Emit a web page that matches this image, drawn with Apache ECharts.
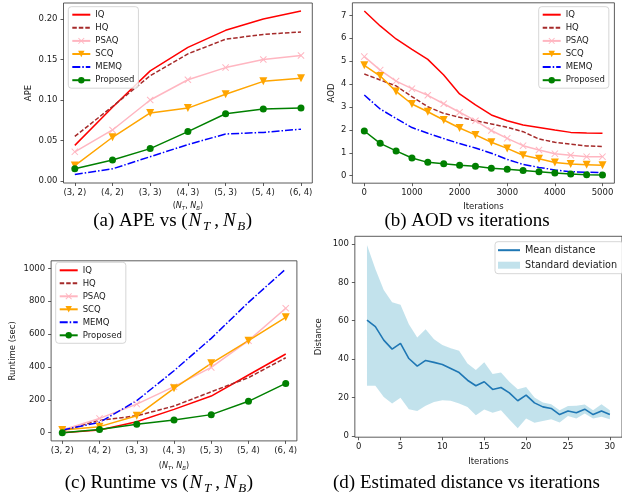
<!DOCTYPE html>
<html>
<head>
    <meta charset="utf-8">
    <title>APE / AOD / Runtime / Distance</title>
    <script src="https://cdn.jsdelivr.net/npm/echarts@6/dist/echarts.min.js"></script>
    <style>
        html, body { margin: 0; padding: 0; background: #fff; }
        #main { width: 622px; height: 502px; }
    </style>
</head>
<body>
<div id="main"></div>
<script type="text/javascript">
    // (a) APE vs (N_T, N_B)
    var catLabels = ['(3, 2)', '(4, 2)', '(3, 3)', '(4, 3)', '(5, 3)', '(5, 4)', '(6, 4)'];
    var catIdx = [0, 1, 2, 3, 4, 5, 6];
    var apeIQ = [0.044, 0.091, 0.136, 0.165, 0.186, 0.200, 0.210];
    var apeHQ = [0.055, 0.092, 0.130, 0.157, 0.175, 0.181, 0.184];
    var apePSAQ = [0.036, 0.063, 0.100, 0.125, 0.140, 0.150, 0.155];
    var apeSCQ = [0.019, 0.054, 0.084, 0.090, 0.107, 0.123, 0.127];
    var apeMEMQ = [0.008, 0.015, 0.030, 0.045, 0.058, 0.060, 0.064];
    var apeProp = [0.015, 0.026, 0.040, 0.061, 0.083, 0.089, 0.090];
    var apeTicks = [0, 0.05, 0.10, 0.15, 0.20];

    // (b) AOD vs iterations
    var iterB = [0, 333, 667, 1000, 1333, 1667, 2000, 2333, 2667, 3000, 3333, 3667, 4000, 4333, 4667, 5000];
    var aodIQ = [7.19, 6.54, 5.97, 5.52, 5.08, 4.40, 3.57, 3.09, 2.65, 2.40, 2.21, 2.10, 1.99, 1.89, 1.86, 1.85];
    var aodHQ = [4.44, 4.18, 3.92, 3.45, 3.01, 2.72, 2.55, 2.40, 2.26, 2.11, 1.92, 1.60, 1.46, 1.37, 1.30, 1.27];
    var aodPSAQ = [5.20, 4.61, 4.13, 3.80, 3.51, 3.14, 2.77, 2.40, 1.97, 1.63, 1.31, 1.12, 0.96, 0.89, 0.83, 0.83];
    var aodSCQ = [4.82, 4.35, 3.68, 3.13, 2.79, 2.43, 2.08, 1.78, 1.46, 1.19, 0.89, 0.74, 0.57, 0.51, 0.48, 0.45];
    var aodMEMQ = [3.52, 2.91, 2.50, 2.10, 1.85, 1.62, 1.40, 1.21, 0.98, 0.71, 0.49, 0.36, 0.25, 0.17, 0.15, 0.13];
    var aodProp = [1.95, 1.41, 1.08, 0.77, 0.58, 0.52, 0.45, 0.41, 0.32, 0.28, 0.22, 0.17, 0.12, 0.07, 0.04, 0.03];
    var iterTicksB = [0, 1000, 2000, 3000, 4000, 5000];
    var aodTicks = [0, 1, 2, 3, 4, 5, 6, 7];

    // (c) Runtime vs (N_T, N_B)
    var rtIQ = [0, 16, 67, 142, 223, 351, 479];
    var rtHQ = [12, 75, 103, 162, 249, 335, 456];
    var rtPSAQ = [16, 87, 174, 280, 397, 560, 757];
    var rtSCQ = [16, 37, 103, 270, 422, 560, 702];
    var rtMEMQ = [16, 63, 195, 377, 574, 793, 996];
    var rtProp = [0, 20, 51, 77, 110, 191, 300];
    var rtTicks = [0, 200, 400, 600, 800, 1000];

    // (d) Estimated distance vs iterations
    var iterD = [1, 2, 3, 4, 5, 6, 7, 8, 9, 10, 11, 12, 13, 14, 15, 16, 17, 18, 19, 20, 21, 22, 23, 24, 25, 26, 27, 28, 29, 30];
    var distMean = [60.3, 56.9, 49.9, 45.2, 48.2, 40.3, 36.3, 39.3, 38.3, 37.2, 35.1, 33.0, 29.0, 26.1, 28.2, 24.2, 25.2, 22.4, 18.3, 21.2, 17.2, 15.1, 14.3, 11.1, 13.0, 12.0, 13.9, 11.1, 13.0, 11.1];
    var distUpper = [99.5, 87.0, 76.0, 69.6, 68.3, 58.1, 51.3, 55.5, 50.4, 47.3, 45.6, 44.3, 37.7, 34.3, 38.3, 32.2, 33.0, 28.2, 24.3, 25.4, 20.0, 17.4, 16.5, 13.4, 15.5, 15.7, 16.3, 13.4, 16.5, 13.4];
    var distLower = [26.1, 26.1, 20.3, 16.9, 19.8, 13.9, 13.0, 15.7, 17.7, 18.6, 18.3, 16.9, 15.1, 10.8, 13.7, 12.0, 13.4, 8.5, 4.0, 9.0, 6.8, 7.8, 8.7, 7.0, 10.4, 9.0, 11.7, 9.0, 9.9, 8.7];
    var iterTicksD = [0, 5, 10, 15, 20, 25, 30];
    var distTicks = [0, 20, 40, 60, 80, 100];

    var methodNames = ['IQ', 'HQ', 'PSAQ', 'SCQ', 'MEMQ', 'Proposed'];

    var FONT = 'DejaVu Sans';
    var SERIF = 'Liberation Serif';
    var TXT = '#1a1a1a';

    // 各方法线型
    var methodStyle = {
        IQ: {color: '#ff0000', type: 'solid', symbol: 'none'},
        HQ: {color: '#a52a2a', type: [4.5, 2], symbol: 'none'},
        PSAQ: {color: '#ffb6c1', type: 'solid', symbol: 'path://M0,1L1,0L5,4L9,0L10,1L6,5L10,9L9,10L5,6L1,10L0,9L4,5Z', size: 7},
        SCQ: {color: '#ffa500', type: 'solid', symbol: 'triangle', size: 8, rotate: 180},
        MEMQ: {color: '#0000ff', type: [8, 2, 1.5, 2], symbol: 'none'},
        Proposed: {color: '#008000', type: 'solid', symbol: 'circle', size: 7}
    };

    function pairs(xs, ys) {
        var out = [];
        for (var i = 0; i < ys.length; i++) {
            out.push([xs[i], ys[i]]);
        }
        return out;
    }

    function methodSeries(name, g, xs, ys) {
        var st = methodStyle[name];
        return {
            name: name,
            type: 'line',
            xAxisIndex: g,
            yAxisIndex: g,
            data: pairs(xs, ys),
            symbol: st.symbol,
            symbolSize: st.size || 0,
            symbolRotate: st.rotate || 0,
            showSymbol: st.symbol !== 'none',
            animation: false,
            lineStyle: {color: st.color, width: 1.5, type: st.type},
            itemStyle: {color: st.color, borderWidth: 0}
        };
    }

    // 坐标名的上下标
    var subRich = {
        n: {fontSize: 8, fontFamily: FONT, color: TXT, lineHeight: 12},
        i: {fontSize: 8, fontFamily: FONT, fontStyle: 'italic', color: TXT, lineHeight: 12},
        s: {fontSize: 5.5, fontFamily: FONT, fontStyle: 'italic', color: TXT, verticalAlign: 'bottom', lineHeight: 7}
    };
    var ntnbName = '{n|(}{i|N}{s|T}{n|, }{i|N}{s|B}{n|)}';

    function valAxis(g, min, max, ticks, fmt, name, nameGap, isX) {
        return {
            type: 'value',
            gridIndex: g,
            min: min,
            max: max,
            name: name,
            nameLocation: 'middle',
            nameGap: nameGap,
            nameTextStyle: {fontSize: 8.5, color: TXT, fontFamily: FONT, rich: subRich},
            axisLine: {show: false, onZero: false},
            splitLine: {show: false},
            axisTick: {show: true, length: 3, customValues: ticks, lineStyle: {color: '#333', width: 0.8}},
            axisLabel: {customValues: ticks, formatter: fmt, fontSize: 8.5, color: TXT, fontFamily: FONT, margin: isX ? 5 : 6}
        };
    }

    function catFmt(v) {
        return catLabels[Math.round(v)];
    }

    function legendCfg(left, top, names, gap) {
        var data = [];
        for (var i = 0; i < names.length; i++) {
            var st = methodStyle[names[i]];
            var item = {name: names[i]};
            if (st && st.symbol === 'none') {
                item.itemStyle = {opacity: 0};
            }
            data.push(item);
        }
        return {
            left: left,
            top: top,
            orient: 'vertical',
            data: data,
            itemWidth: 18,
            itemHeight: 8,
            itemGap: gap,
            padding: [3, 4, 3, 3],
            backgroundColor: 'rgba(255,255,255,0.85)',
            borderColor: '#cccccc',
            borderWidth: 0.8,
            borderRadius: 3,
            textStyle: {fontSize: 8.5, fontFamily: FONT, color: TXT, lineHeight: 10}
        };
    }

    var gridBox = {show: true, borderColor: '#333', borderWidth: 0.8, backgroundColor: 'transparent'};

    var grids = [
        Object.assign({left: 63.5, top: 3, width: 248.8, height: 180}, gridBox),
        Object.assign({left: 352.4, top: 2.8, width: 262, height: 180.4}, gridBox),
        Object.assign({left: 51.1, top: 260.8, width: 245.8, height: 180.1}, gridBox),
        Object.assign({left: 354.85, top: 236.3, width: 272.8, height: 200.9}, gridBox)
    ];

    var xAxes = [
        valAxis(0, -0.3, 6.3, catIdx, catFmt, ntnbName, 17, true),
        valAxis(1, -250, 5250, iterTicksB, function (v) { return String(v); }, 'Iterations', 19, true),
        valAxis(2, -0.3, 6.3, catIdx, catFmt, ntnbName, 19, true),
        valAxis(3, -0.45, 31.45, iterTicksD, function (v) { return String(v); }, 'Iterations', 20, true)
    ];
    var yAxes = [
        valAxis(0, -0.00247, 0.21975, apeTicks, function (v) { return v.toFixed(2); }, 'APE', 30, false),
        valAxis(1, -0.33, 7.55, aodTicks, function (v) { return String(v); }, 'AOD', 16, false),
        valAxis(2, -49.8, 1045.8, rtTicks, function (v) { return String(v); }, 'Runtime (sec)', 34, false),
        valAxis(3, -0.7, 104, distTicks, function (v) { return String(v); }, 'Distance', 32, false)
    ];

    var series = [];
    var apeData = [apeIQ, apeHQ, apePSAQ, apeSCQ, apeMEMQ, apeProp];
    var aodData = [aodIQ, aodHQ, aodPSAQ, aodSCQ, aodMEMQ, aodProp];
    var rtData = [rtIQ, rtHQ, rtPSAQ, rtSCQ, rtMEMQ, rtProp];
    for (var k = 0; k < methodNames.length; k++) {
        series.push(methodSeries(methodNames[k], 0, catIdx, apeData[k]));
        series.push(methodSeries(methodNames[k], 1, iterB, aodData[k]));
        series.push(methodSeries(methodNames[k], 2, catIdx, rtData[k]));
    }

    // 标准差带：上界和下界围成的多边形
    var bandColor = 'rgba(173,216,230,0.75)';
    series.push({
        name: 'Standard deviation',
        type: 'custom',
        xAxisIndex: 3,
        yAxisIndex: 3,
        data: pairs(iterD, distUpper),
        encode: {x: 0, y: 1},
        animation: false,
        itemStyle: {color: bandColor},
        renderItem: function (params, api) {
            if (params.dataIndex !== 0) {
                return null;
            }
            var pts = [];
            for (var i = 0; i < iterD.length; i++) {
                pts.push(api.coord([iterD[i], distUpper[i]]));
            }
            for (var j = iterD.length - 1; j >= 0; j--) {
                pts.push(api.coord([iterD[j], distLower[j]]));
            }
            return {type: 'polygon', shape: {points: pts}, style: {fill: bandColor}};
        }
    });
    series.push({
        name: 'Mean distance',
        type: 'line',
        xAxisIndex: 3,
        yAxisIndex: 3,
        data: pairs(iterD, distMean),
        symbol: 'none',
        animation: false,
        lineStyle: {color: '#1f77b4', width: 1.6},
        itemStyle: {color: '#1f77b4'}
    });

    var legendD = {
        left: 495,
        top: 241.7,
        orient: 'vertical',
        data: [
            {name: 'Mean distance', itemStyle: {opacity: 0}},
            {name: 'Standard deviation', icon: 'rect', itemStyle: {color: bandColor}}
        ],
        itemWidth: 22,
        itemHeight: 7,
        itemGap: 4,
        padding: [3, 6, 3, 2],
        backgroundColor: 'rgba(255,255,255,0.85)',
        borderColor: '#cccccc',
        borderWidth: 0.8,
        borderRadius: 3,
        textStyle: {fontSize: 9.7, fontFamily: FONT, color: TXT, lineHeight: 11}
    };

    // 图下方的标题 (公式部分按 LaTeX 的宽度留位)
    var capRich = {
        r: {fontSize: 19, fontFamily: SERIF, color: '#000', lineHeight: 24},
        i: {fontSize: 19, fontFamily: SERIF, fontStyle: 'italic', color: '#000', lineHeight: 24, width: 14.5, align: 'left'},
        s: {fontSize: 13, fontFamily: SERIF, fontStyle: 'italic', color: '#000', verticalAlign: 'bottom', lineHeight: 14, width: 9, align: 'left'},
        c: {fontSize: 19, fontFamily: SERIF, color: '#000', lineHeight: 24, width: 11, align: 'left'}
    };
    var mathNtNb = '{r|(}{i|N}{s|T}{c|,}{i|N}{s|B}{r|)}';

    function caption(x, y, text, align) {
        return {
            type: 'text',
            x: x,
            y: y,
            style: {text: text, rich: capRich, align: align, verticalAlign: 'middle', fontSize: 19, fontFamily: SERIF, fill: '#000'}
        };
    }

    var chart = echarts.init(document.getElementById('main'), null, {renderer: 'canvas'});
    chart.setOption({
        animation: false,
        backgroundColor: '#fff',
        grid: grids,
        xAxis: xAxes,
        yAxis: yAxes,
        legend: [
            legendCfg(68.3, 6.7, methodNames, 3.1),
            legendCfg(538.7, 6.7, methodNames, 3.1),
            legendCfg(55.7, 262.3, methodNames, 3),
            legendD
        ],
        graphic: [
            caption(252, 221, '{r|(a) APE vs }' + mathNtNb, 'right'),
            caption(467, 221, '{r|(b) AOD vs iterations}', 'center'),
            caption(253, 483, '{r|(c) Runtime vs }' + mathNtNb, 'right'),
            caption(466.5, 483, '{r|(d) Estimated distance vs iterations}', 'center')
        ],
        series: series
    });
</script>
</body>
</html>
